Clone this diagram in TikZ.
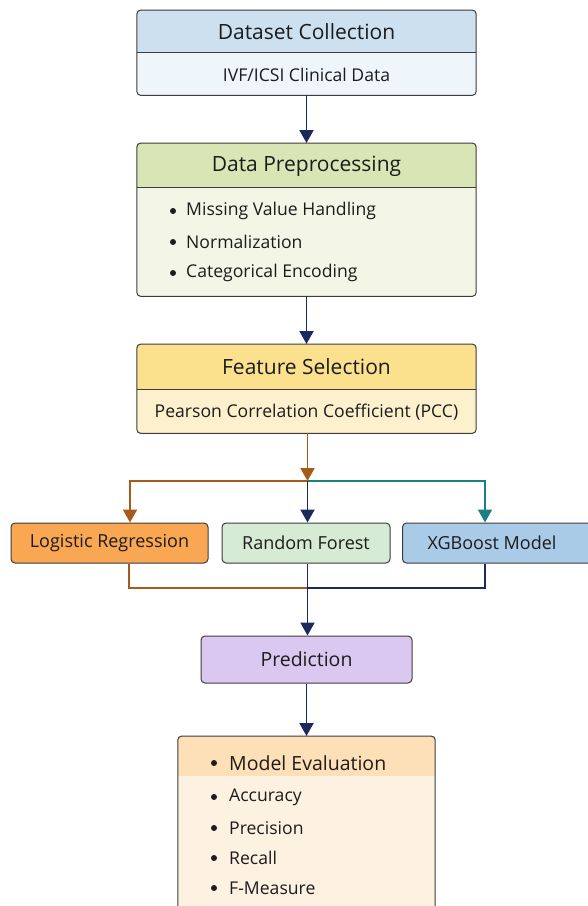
\documentclass[tikz,border=0pt]{standalone}
\usepackage{fontspec}
\setmainfont{Open Sans}
\usetikzlibrary{arrows.meta,calc}
\definecolor{bordc}{HTML}{3C3C3C}
\definecolor{navy}{HTML}{1B2A5E}
\definecolor{brn}{HTML}{A85A1C}
\definecolor{teal2}{HTML}{1A8080}
\definecolor{txt}{HTML}{1C1C1C}
\definecolor{dch}{HTML}{CCE0F0}
\definecolor{dcb}{HTML}{EEF5FB}
\definecolor{dph}{HTML}{D8E6B6}
\definecolor{dpb}{HTML}{F3F6E6}
\definecolor{fsh}{HTML}{FBE08E}
\definecolor{fsb}{HTML}{FDF0CC}
\definecolor{lrc}{HTML}{F9A752}
\definecolor{rfc}{HTML}{D6EBD3}
\definecolor{xgc}{HTML}{AACBE8}
\definecolor{prc}{HTML}{DAC8F1}
\definecolor{meh}{HTML}{FDE0B8}
\definecolor{meb}{HTML}{FDF1E1}
\tikzset{
  boxfill/.style={draw=none, inner sep=0pt, rounded corners=4pt},
  boxline/.style={draw=bordc, line width=1pt, rounded corners=4pt},
  divline/.style={draw=bordc, line width=0.8pt},
  sbox/.style={draw=bordc, line width=1pt, rounded corners=4pt, inner sep=0pt, text=txt, font=\fontsize{18}{21}\selectfont},
  headtxt/.style={text=txt, inner sep=0pt, font=\fontsize{21}{24}\selectfont},
  bodytxt/.style={text=txt, inner sep=0pt, font=\fontsize{17.6}{21}\selectfont},
  bul/.style={circle, fill=txt, inner sep=0pt, minimum size=6pt},
  conn/.style={line width=1.9pt},
  tip/.style={-{Triangle[width=14pt,length=13pt]}},
}
\newcommand\twopart[8]{%
  \node[boxfill, fill=#8, minimum width=#4pt, minimum height=#5pt, anchor=north] (#1) at (#2,#3) {};
  \begin{scope}
    \clip[rounded corners=4pt] (#1.north west) rectangle (#1.south east);
    \fill[#7] (#1.north west) rectangle ($(#1.north east)+(0,#6)$);
  \end{scope}
  \draw[divline] ($(#1.north west)+(0,#6)$) -- ($(#1.north east)+(0,#6)$);
  \draw[boxline] (#1.north west) rectangle (#1.south east);
}
\begin{document}
\begin{tikzpicture}[x=1pt,y=-1pt]
\useasboundingbox (0,0) rectangle (588,906);
\clip (0,0) rectangle (588,906);
\fill[white] (0,0) rectangle (588,906);

% Dataset Collection
\twopart{dc}{306.5}{10}{339}{85}{42}{dch}{dcb}
\node[headtxt] (dct) at (306.5,32) {Dataset Collection};
\node[bodytxt] (dcs) at (306.5,75) {IVF/ICSI Clinical Data};

% Data Preprocessing
\twopart{dp}{306.5}{143}{339}{153}{44}{dph}{dpb}
\node[headtxt] (dpt) at (306.5,166) {Data Preprocessing};
\node[bul] (b1) at (173,211) {};
\node[bodytxt, anchor=west] (dp1) at (186,211) {Missing Value Handling};
\node[bul] (b2) at (173,242) {};
\node[bodytxt, anchor=west] (dp2) at (186,242) {Normalization};
\node[bul] (b3) at (173,273) {};
\node[bodytxt, anchor=west] (dp3) at (186,273) {Categorical Encoding};

% Feature Selection
\twopart{fs}{306.5}{344}{339}{89}{45}{fsh}{fsb}
\node[headtxt] (fst) at (306.5,367) {Feature Selection};
\node[bodytxt] (fss) at (306.5,412) {Pearson Correlation Coefficient (PCC)};

% model boxes
\node[sbox, fill=lrc, minimum width=197pt, minimum height=40pt] (lr) at (109.5,543) {Logistic Regression};
\node[sbox, fill=rfc, minimum width=168pt, minimum height=40pt] (rf) at (306,543) {Random Forest};
\node[sbox, fill=xgc, minimum width=200pt, minimum height=40pt, anchor=west] (xg) at (402,543) {};
\node[text=txt, inner sep=0pt, font=\fontsize{18}{21}\selectfont] (xgt) at (492,543) {XGBoost Model};

% Prediction
\node[sbox, fill=prc, minimum width=211pt, minimum height=47pt, font=\fontsize{19.5}{22}\selectfont] (pr) at (306.5,659.5) {Prediction};

% Model Evaluation
\node[boxfill, fill=meb, minimum width=257pt, minimum height=180pt, anchor=north] (me) at (306.5,736) {};
\begin{scope}
  \clip[rounded corners=4pt] (me.north west) rectangle (me.south east);
  \fill[meh] (me.north west) rectangle ($(me.north east)+(0,40)$);
\end{scope}
\draw[boxline] (me.north west) rectangle (me.south east);
\node[bul] (m0) at (214,763) {};
\node[bodytxt, font=\fontsize{19.5}{22}\selectfont, anchor=west] (me0) at (229,763) {Model Evaluation};
\node[bul] (m1) at (214,797) {};
\node[bodytxt, anchor=west] (me1) at (229,797) {Accuracy};
\node[bul] (m2) at (214,828) {};
\node[bodytxt, anchor=west] (me2) at (229,828) {Precision};
\node[bul] (m3) at (214,858) {};
\node[bodytxt, anchor=west] (me3) at (229,858) {Recall};
\node[bul] (m4) at (214,888) {};
\node[bodytxt, anchor=west] (me4) at (229,888) {F-Measure};

% connectors
\coordinate (split) at (307.5,481);
\coordinate (lbr) at (130,481);
\coordinate (rbr) at (485,481);
\coordinate (merge) at (307.5,588);
\coordinate (lm) at (129,588);
\coordinate (rm) at (485,588);

\draw[conn, navy, tip] (dc.south) -- (dp.north);
\draw[conn, navy, tip] (dp.south) -- (fs.north);
\draw[conn, teal2, tip] (split) -- (rbr) -- (rbr |- xg.north);
\draw[conn, brn, tip] (split) -- (lbr) -- (lbr |- lr.north);
\draw[conn, navy, tip] (split) -- (split |- rf.north);
\draw[conn, brn, tip] (fs.south -| split) -- (split);
\draw[conn, brn] (lm |- lr.south) -- (lm) -- (merge);
\draw[conn, navy] (rm |- xg.south) -- (rm) -- (merge);
\draw[conn, navy, tip] (rf.south -| merge) -- (merge |- pr.north);
\draw[conn, navy, tip] (pr.south) -- (me.north);
\end{tikzpicture}
\end{document}
